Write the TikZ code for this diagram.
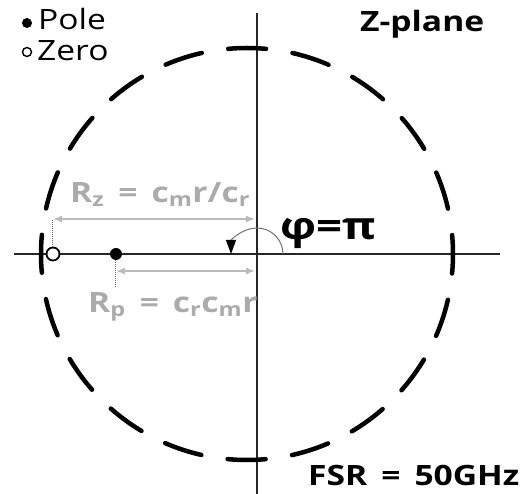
\documentclass[tikz,border=0pt]{standalone}
\usepackage{fontspec}
\setmainfont{Open Sans}[FakeStretch=1.2]
\usetikzlibrary{arrows.meta,positioning}
\colorlet{lblgray}{black!33}
\colorlet{arrgray}{black!27}

\begin{document}
\begin{tikzpicture}[x=1pt,y=1pt,>={Latex[length=9pt,width=7pt]},
    axis/.style={line width=2.2pt,black!85},
    ring/.style={line width=4.5pt,line cap=round,dash pattern=on 38pt off 26.7pt,dash phase=19pt},
    pole/.style={circle,fill=black,inner sep=0pt,minimum size=12pt},
    zero/.style={circle,draw=black,fill=white,line width=1.8pt,inner sep=0pt,minimum size=13pt},
    txt/.style={anchor=base west,inner sep=0pt},
    dist/.style={<->,arrgray,line width=1.6pt},
    guide/.style={densely dotted,black!60,line width=1pt}]
  \useasboundingbox (-257,-240) rectangle (272,254);
  % axes and unit circle
  \coordinate (O) at (0,0);
  \draw[axis] (-243,0) -- (243,0);
  \draw[axis] (0,-240) -- (0,241);
  \draw[ring] (-10,0) circle (206);
  % pole and zero on the negative real axis
  \node[zero] (Z) at (-204,0) {};
  \node[pole] (P) at (-141,0) {};
  \coordinate (Zup) at (-204,35);
  \coordinate (Pdn) at (-141,-34);
  \draw[guide] (Z.north) -- (Zup);
  \draw[guide] (P.south) -- (Pdn);
  \coordinate (Zend) at (-2,35);
  \coordinate (Pbeg) at (-141,-17);
  \coordinate (Pend) at (-2,-17);
  \draw[dist] (Zup) -- (Zend);
  \draw[dist] (Pbeg) -- (Pend);
  \node[txt,lblgray,font=\fontsize{28}{32}\bfseries] (Rz) at (-187,51)
       {R\textsubscript{z}\enspace=\enspace c\textsubscript{m}r/c\textsubscript{r}};
  \node[txt,lblgray,font=\fontsize{28}{32}\bfseries] (Rp) at (-169,-59)
       {R\textsubscript{p}\enspace=\enspace c\textsubscript{r}c\textsubscript{m}r};
  % phase angle
  \draw[black!55,line width=1pt,-{Triangle[length=14pt,width=10pt,black]}]
       (26,0) arc[start angle=0,end angle=180,radius=26];
  \node[txt,font=\fontsize{38}{42}\bfseries] (phi) at (23,14) {φ=π};
  % legend and captions
  \node[pole,minimum size=10pt] (legP) at (-230,231) {};
  \node[txt,font=\fontsize{28}{32}\selectfont] (legPtxt) at (-219,224) {Pole};
  \node[zero,minimum size=9pt,line width=1.4pt] (legZ) at (-230,202) {};
  \node[txt,font=\fontsize{28}{32}\selectfont] (legZtxt) at (-220,193) {Zero};
  \node[txt,font=\fontsize{28}{32}\bfseries] (plane) at (103,222) {Z-plane};
  \node[txt,font=\fontsize{28}{32}\bfseries] (fsr) at (51,-231) {FSR\enspace=\enspace50GHz};
\end{tikzpicture}
\end{document}
